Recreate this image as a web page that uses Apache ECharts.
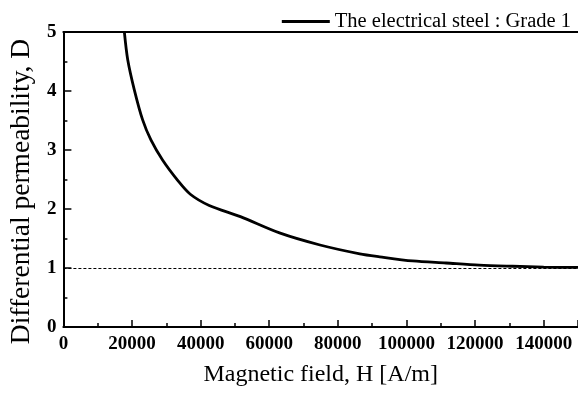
<!DOCTYPE html>
<html>
<head>
<meta charset="utf-8">
<script src="https://cdn.jsdelivr.net/npm/echarts@6/dist/echarts.min.js"></script>
<style>
  html, body { margin: 0; padding: 0; background: #fff; }
  #chart { width: 578px; height: 393px; }
</style>
</head>
<body>
<div id="chart"></div>
<script>
// magnetic field H [A/m] and differential permeability D
var fieldH = [17770, 18750, 20670, 23100, 25510, 28900, 33250, 37000, 42500,
              51600, 63200, 74800, 86400, 92200, 101800, 111500, 121200, 130900, 140000, 150000];
var permD = [5.0, 4.53, 4.02, 3.51, 3.17, 2.83, 2.49, 2.25, 2.06,
             1.87, 1.59, 1.39, 1.24, 1.19, 1.12, 1.085, 1.05, 1.03, 1.015, 1.01];
var refLevel = 1;
var seriesName = 'The electrical steel : Grade 1';

var serif = 'Liberation Serif';
var points = fieldH.map(function (h, i) { return [h, permD[i]]; });

var chart = echarts.init(document.getElementById('chart'));
chart.setOption({
    backgroundColor: '#fff',
    animation: false,
    grid: { left: 62, top: 32, width: 517, height: 295 },
    legend: {
        data: [seriesName],
        right: 2, top: 6,
        itemWidth: 48, itemHeight: 10,
        icon: 'path://M0,3.5L48,3.5L48,6.5L0,6.5Z',
        textStyle: { fontFamily: serif, fontSize: 20.5, color: '#000' }
    },
    xAxis: [{
        type: 'value',
        min: 0, max: 150000, interval: 20000,
        name: 'Magnetic field, H [A/m]',
        nameLocation: 'middle', nameGap: 36,
        nameTextStyle: { fontFamily: serif, fontSize: 24, color: '#000' },
        axisLine: { lineStyle: { color: '#000', width: 2 } },
        axisTick: { inside: true, length: 7, lineStyle: { color: '#000', width: 1.5 } },
        minorTick: { show: true, splitNumber: 2, length: 4, lineStyle: { color: '#000', width: 1.5 } },
        axisLabel: {
            margin: 8, fontFamily: serif, fontSize: 19, fontWeight: 'bold', color: '#000',
            showMaxLabel: false,
            formatter: function (v) { return String(v); }
        },
        splitLine: { show: false }
    }, {
        type: 'value',
        position: 'top',
        min: 0, max: 150000,
        axisLine: { show: true, onZero: false, lineStyle: { color: '#000', width: 2 } },
        axisTick: { show: false },
        axisLabel: { show: false },
        splitLine: { show: false }
    }],
    yAxis: {
        type: 'value',
        min: 0, max: 5, interval: 1,
        name: 'Differential permeability, D',
        nameLocation: 'middle', nameGap: 26,
        nameTextStyle: { fontFamily: serif, fontSize: 27.5, color: '#000', padding: [0, 24, 0, 0] },
        axisLine: { show: true, lineStyle: { color: '#000', width: 2 } },
        axisTick: { show: true, inside: true, length: 8, lineStyle: { color: '#000', width: 1.5 } },
        minorTick: { show: true, splitNumber: 2, length: 4, lineStyle: { color: '#000', width: 1.5 } },
        axisLabel: { margin: 7, fontFamily: serif, fontSize: 19, fontWeight: 'bold', color: '#000' },
        splitLine: { show: false }
    },
    series: [{
        name: seriesName,
        type: 'line',
        data: points,
        smooth: 0.3,
        showSymbol: false,
        lineStyle: { color: '#000', width: 2.8 },
        itemStyle: { color: '#000' },
        markLine: {
            silent: true,
            symbol: 'none',
            label: { show: false },
            lineStyle: { color: '#000', type: [3, 2], width: 1 },
            data: [{ yAxis: refLevel }]
        }
    }]
});
</script>
</body>
</html>
